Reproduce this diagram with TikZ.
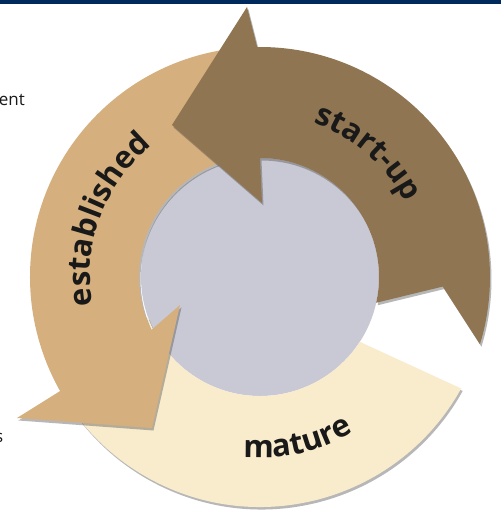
\documentclass[tikz,border=0pt]{standalone}
\usepackage{fontspec}
\setmainfont{Open Sans}
\usetikzlibrary{decorations.text,shadows}
\definecolor{navy}{RGB}{0,42,92}
\definecolor{startc}{RGB}{143,117,82}
\definecolor{estc}{RGB}{213,176,126}
\definecolor{matc}{RGB}{249,236,205}
\definecolor{discc}{RGB}{201,201,213}
\newcommand\ringfont{\fontsize{31}{31}\selectfont\bfseries}
\tikzset{
  band/.style={drop shadow={shadow xshift=1.5pt,shadow yshift=-2.5pt,opacity=.4,fill=black!70}},
  startband/.style={band,fill=startc},
  estband/.style={band,fill=estc},
  matband/.style={band,fill=matc},
  ringlabel/.style={decorate,decoration={text along path,text align=center,text color=black!90}},
  sidetext/.style={inner sep=0pt,font=\fontsize{17}{17}\selectfont,text=black!90}
}
\begin{document}
\begin{tikzpicture}[x=1pt,y=1pt]
\useasboundingbox (-260,-233) rectangle (241,277);
\fill[white] (-260,-233) rectangle (241,277);
% top bar
\fill[navy] (-260,272.7) rectangle (241,277);
% side texts (cropped)
\node[sidetext,anchor=base east] (ent) at (-235,171) {ent};
\node[sidetext,anchor=base east] (s) at (-256.5,-165) {s};
% centre disc
\fill[discc] (0,0) circle[radius=119];
% mature
\fill[matband] (-29:230) arc[start angle=-29,end angle=-160,radius=230]
  -- (-160:119) arc[start angle=-160,end angle=-33,radius=119] -- cycle;
% established
\fill[estband] (93:230) arc[start angle=93,end angle=209.7,radius=230]
  -- (-243,-141) -- (-108,-151) -- (-80,-28)
  -- (206:121) arc[start angle=206,end angle=93,radius=121] -- cycle;
% start-up
\fill[startband] (90.7:230) arc[start angle=90.7,end angle=-17,radius=230]
  -- (-3:183) -- (-12.5:119) arc[start angle=-12.5,end angle=90,radius=119]
  -- (2,74) -- (-88,152) -- (-13,270) -- cycle;
% labels
\path[ringlabel,decoration={text={|\ringfont|start-up}}]
  (76:163) arc[start angle=76,end angle=22,radius=163];
\path[ringlabel,decoration={text={|\ringfont|established}}]
  (196:170) arc[start angle=196,end angle=123,radius=170];
\path[ringlabel,decoration={text={|\ringfont|mature}}]
  (255:181) arc[start angle=255,end angle=311,radius=181];
\end{tikzpicture}
\end{document}
